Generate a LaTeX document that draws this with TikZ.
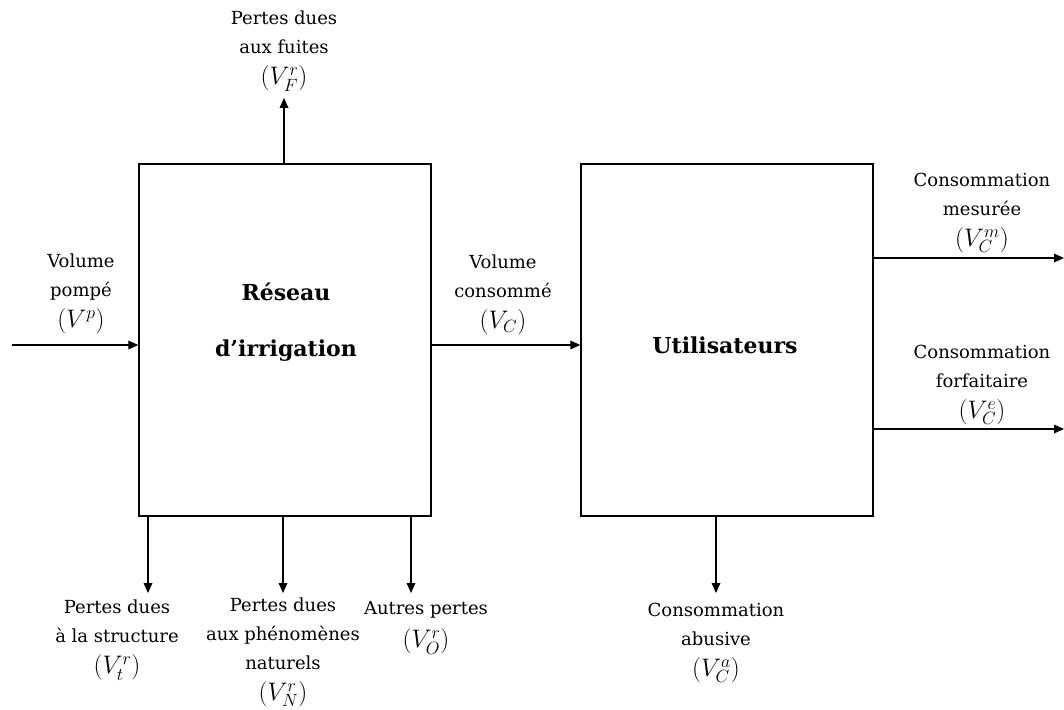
\RequirePackage{fix-cm}
\documentclass[tikz,border=0pt]{standalone}
\usepackage{fontspec}
\setmainfont{DejaVu Serif}
\usetikzlibrary{arrows.meta}
\newcommand\mvol[1]{{\fontsize{19}{22}\selectfont$#1$}}
\begin{document}
\begin{tikzpicture}[x=0.75pt,y=-0.75pt,
  blk/.style={draw,line width=1pt,minimum width=219pt,minimum height=264pt,inner sep=0pt},
  ttl/.style={align=center,inner sep=0pt,font=\fontsize{16.5}{41.5}\selectfont\bfseries},
  lbl/.style={align=center,inner sep=0pt,font=\fontsize{13.5}{21.8}\selectfont},
  arr/.style={line width=0.9pt,-{Triangle[length=7.5pt,width=6.5pt]}}]
\useasboundingbox (0,0) rectangle (1064,710);
\node[blk] (res) at (285,340) {};
\node[blk] (usr) at (727,340) {};
\node[ttl] (rest) at (286,322) {Réseau\\d’irrigation};
\node[ttl] (usrt) at (725,345) {Utilisateurs};
% labels
\node[lbl] (lp) at (81,294) {Volume\\pompé\\[1.5pt]\mvol{(V^{p})}};
\node[lbl] (lf) at (284,51) {Pertes dues\\aux fuites\\[1.5pt]\mvol{(V_F^{r})}};
\node[lbl] (lc) at (503,295) {Volume\\consommé\\[1.5pt]\mvol{(V_C)}};
\node[lbl] (lm) at (982,213) {Consommation\\mesurée\\[1.5pt]\mvol{(V_C^{m})}};
\node[lbl] (le) at (982,385) {Consommation\\forfaitaire\\[1.5pt]\mvol{(V_C^{e})}};
\node[lbl] (lt) at (117,640) {Pertes dues\\à la structure\\[1.5pt]\mvol{(V_t^{r})}};
\node[lbl] (ln) at (283,652) {Pertes dues\\aux phénomènes\\naturels\\[1.5pt]\mvol{(V_N^{r})}};
\node[lbl] (lo) at (426,628) {Autres pertes\\[3pt]\mvol{(V_O^{r})}};
\node[lbl] (la) at (716,643) {Consommation\\abusive\\[1.5pt]\mvol{(V_C^{a})}};
% free ends
\coordinate (pin) at (12,345);
\coordinate (tf) at (284,98);
\coordinate (tt) at (148,593);
\coordinate (tn) at (283,593);
\coordinate (to) at (411,593);
\coordinate (ta) at (716,593);
\coordinate (tm) at (1064,258);
\coordinate (te) at (1064,429);
% connectors
\draw[arr] (pin) -- (pin -| res.west);
\draw[arr] (tf |- res.north) -- (tf);
\draw[arr] (tt |- res.south) -- (tt);
\draw[arr] (tn |- res.south) -- (tn);
\draw[arr] (to |- res.south) -- (to);
\draw[arr] (res.east |- pin) -- (usr.west |- pin);
\draw[arr] (ta |- usr.south) -- (ta);
\draw[arr] (usr.east |- tm) -- (tm);
\draw[arr] (usr.east |- te) -- (te);
\end{tikzpicture}
\end{document}
